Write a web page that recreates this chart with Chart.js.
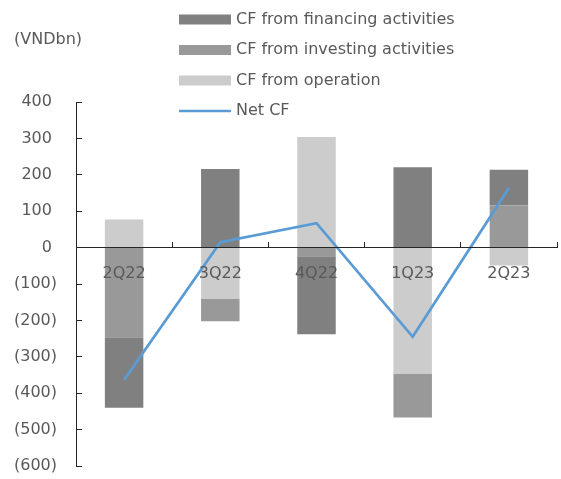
<!DOCTYPE html>
<html>
<head>
<meta charset="utf-8">
<script src="https://cdn.jsdelivr.net/npm/chart.js@4/dist/chart.umd.min.js"></script>
<style>
    html, body { margin: 0; padding: 0; background: #fff; }
    #wrap { width: 561px; height: 479px; }
</style>
</head>
<body>
<div id="wrap"><canvas id="cfChart" width="561" height="479"></canvas></div>
<script>
const quarters = ["2Q22", "3Q22", "4Q22", "1Q23", "2Q23"];
const cfOperation = [77, -140, 304, -346, -49];
const cfInvesting = [-246, -62, -24, -121, 116];
const cfFinancing = [-194, 216, -214, 221, 98];
const netCF = [-363, 15, 67, -245, 164];
const unitLabel = "(VNDbn)";

const fontFamily = "'DejaVu Sans', Verdana, sans-serif";
Chart.defaults.font.family = fontFamily;
Chart.defaults.font.size = 16;
Chart.defaults.color = "#595959";

// excel style: legend in a column over the plot, unit text top left
const sideText = {
    id: "sideText",
    afterDraw(chart) {
        const ctx = chart.ctx;
        ctx.save();
        ctx.font = "16px " + fontFamily;
        ctx.fillStyle = "#595959";
        ctx.textBaseline = "middle";
        ctx.textAlign = "left";
        ctx.fillText(unitLabel, 14, 40);

        let items = chart.data.datasets.slice().reverse();
        let rowY = 19.5;
        for (let i = 0; i < items.length; i++) {
            let ds = items[i];
            if (ds.type === "line") {
                ctx.strokeStyle = ds.borderColor;
                ctx.lineWidth = 2.5;
                ctx.beginPath();
                ctx.moveTo(179, rowY);
                ctx.lineTo(231, rowY);
                ctx.stroke();
            } else {
                ctx.fillStyle = ds.backgroundColor;
                ctx.fillRect(179, rowY - 5, 52, 10);
            }
            ctx.fillStyle = "#595959";
            ctx.fillText(ds.label, 236, rowY);
            rowY += 30.5;
        }
        ctx.restore();
    }
};

new Chart("cfChart", {
    data: {
        labels: quarters,
        datasets: [
            {
                type: "line",
                label: "Net CF",
                data: netCF,
                stack: "net",
                borderColor: "#5B9BD5",
                borderWidth: 2.75,
                pointRadius: 0,
                tension: 0
            },
            {
                type: "bar",
                label: "CF from operation",
                data: cfOperation,
                stack: "cf",
                backgroundColor: "#CCCCCC",
                barPercentage: 0.4,
                categoryPercentage: 1
            },
            {
                type: "bar",
                label: "CF from investing activities",
                data: cfInvesting,
                stack: "cf",
                backgroundColor: "#999999",
                barPercentage: 0.4,
                categoryPercentage: 1
            },
            {
                type: "bar",
                label: "CF from financing activities",
                data: cfFinancing,
                stack: "cf",
                backgroundColor: "#808080",
                barPercentage: 0.4,
                categoryPercentage: 1
            }
        ]
    },
    options: {
        responsive: false,
        animation: false,
        layout: {
            padding: { top: 102, right: 4, bottom: 13, left: 0 }
        },
        plugins: {
            legend: { display: false },
            tooltip: { enabled: false }
        },
        scales: {
            x: {
                stacked: true,
                position: { y: 0 },
                offset: true,
                afterFit: function (scale) { scale.height = 0; },
                grid: {
                    offset: true,
                    drawOnChartArea: false,
                    drawTicks: true,
                    tickLength: -6,
                    color: "#262626",
                    z: 1
                },
                border: { display: true, color: "#262626", width: 1, z: 1 },
                ticks: { padding: 23, color: "#595959", z: 1 }
            },
            y: {
                stacked: true,
                min: -600,
                max: 400,
                afterFit: function (scale) {
                    scale.width = 76;
                    scale.paddingTop = 10;
                    scale.paddingBottom = 10;
                },
                grid: {
                    drawOnChartArea: false,
                    drawTicks: true,
                    tickLength: -6,
                    color: "#262626"
                },
                border: { display: true, color: "#262626", width: 1 },
                ticks: {
                    stepSize: 100,
                    padding: 25,
                    color: "#595959",
                    callback: function (v) {
                        if (v < 0) return "(" + Math.abs(v) + ")";
                        return v + " ";
                    }
                }
            }
        }
    },
    plugins: [sideText]
});
</script>
</body>
</html>
